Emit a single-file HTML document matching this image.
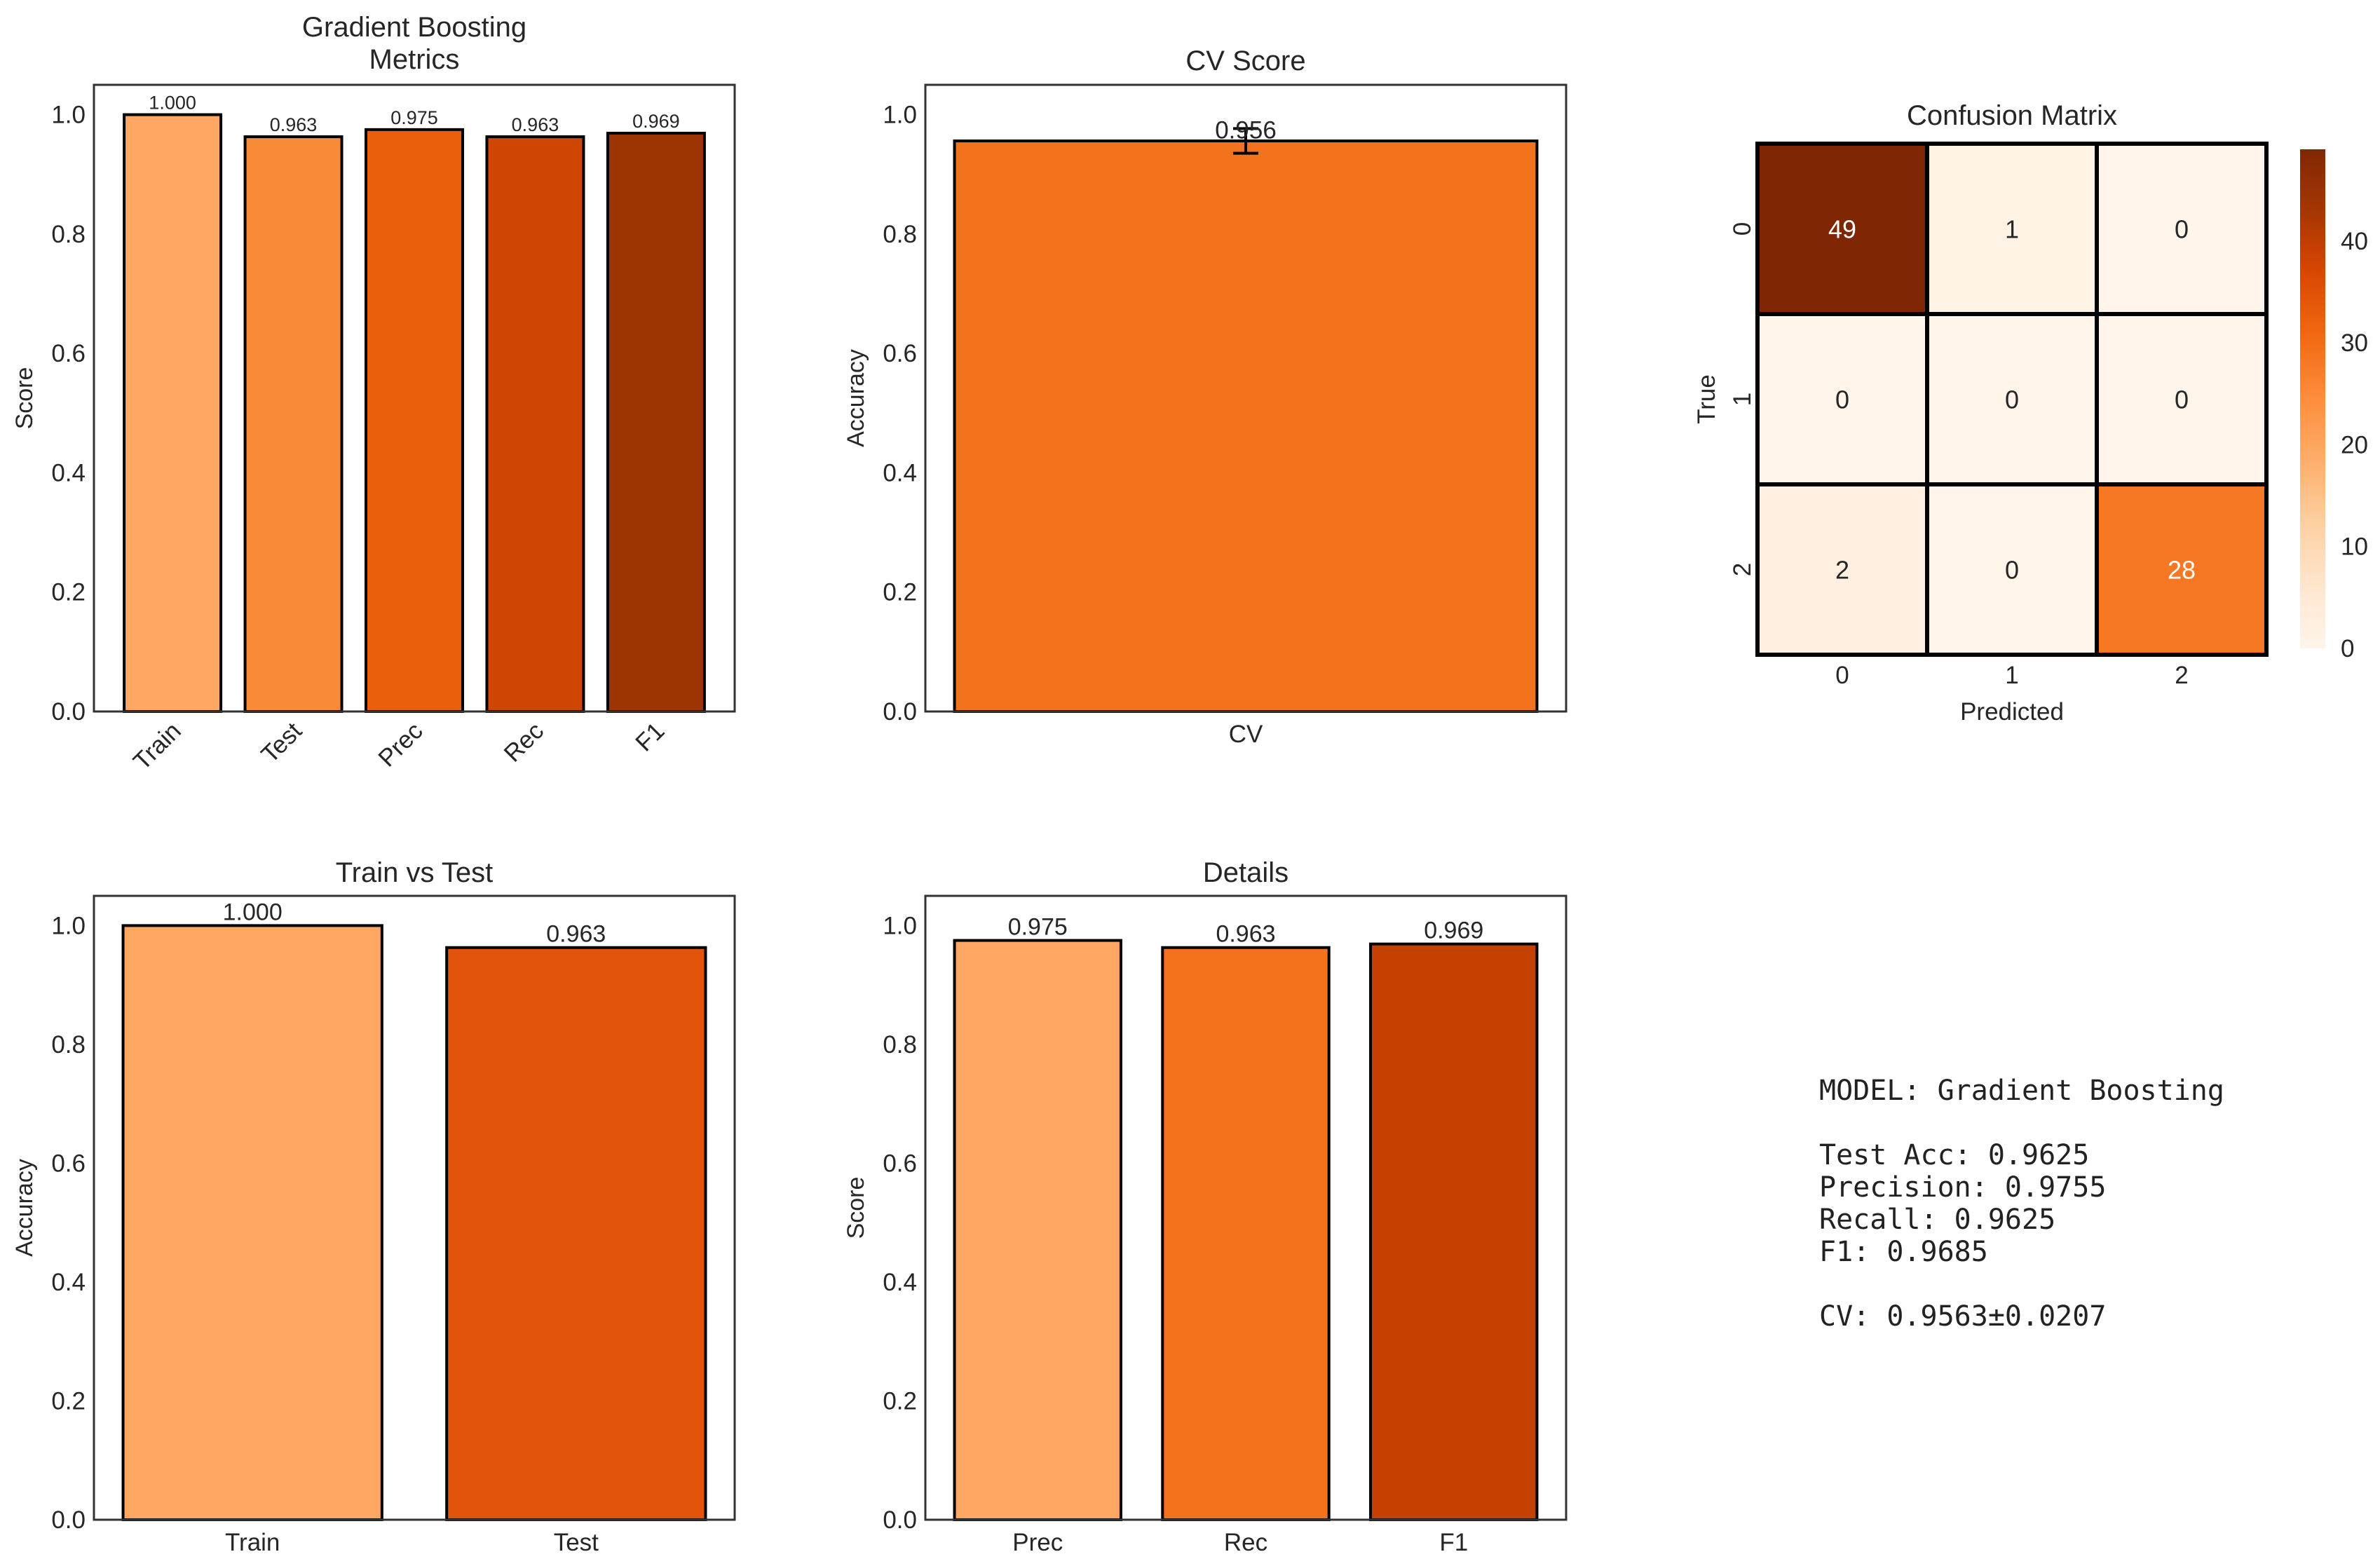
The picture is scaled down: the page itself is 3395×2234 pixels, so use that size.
<!DOCTYPE html>
<html><head><meta charset="utf-8">
<style>
html,body{margin:0;padding:0;background:#fff;}
svg{display:block;}
text{font-family:"Liberation Sans",sans-serif;fill:#262626;}
.mono{font-family:"DejaVu Sans Mono","Liberation Mono",monospace;fill:#222;}
</style></head>
<body>
<svg id="fig" width="3395" height="2234" viewBox="0 0 3395 2234" xmlns="http://www.w3.org/2000/svg">
<g id="root"></g>
<g>
<text class="mono" x="2595" y="1569" font-size="40">MODEL: Gradient Boosting</text>
<text class="mono" x="2595" y="1661" font-size="40">Test Acc: 0.9625</text>
<text class="mono" x="2595" y="1707" font-size="40">Precision: 0.9755</text>
<text class="mono" x="2595" y="1753" font-size="40">Recall: 0.9625</text>
<text class="mono" x="2595" y="1799" font-size="40">F1: 0.9685</text>
<text class="mono" x="2595" y="1891" font-size="40">CV: 0.9563±0.0207</text>
</g>
</svg>
<script>
const metricCats = ["Train","Test","Prec","Rec","F1"];
const metricVals = [1.000,0.963,0.975,0.963,0.969];
const metricLabels = ["1.000","0.963","0.975","0.963","0.969"];
const cvCats = ["CV"];
const cvVals = [0.956];
const cvErr = [0.0207];
const cvLabels = ["0.956"];
const ttCats = ["Train","Test"];
const ttVals = [1.000,0.963];
const ttLabels = ["1.000","0.963"];
const detCats = ["Prec","Rec","F1"];
const detVals = [0.975,0.963,0.969];
const detLabels = ["0.975","0.963","0.969"];
const yTicks = [0,0.2,0.4,0.6,0.8,1.0];
const yTickLabels = ["0.0","0.2","0.4","0.6","0.8","1.0"];
const cmRows = ["0","1","2"];
const cmCols = ["0","1","2"];
const cmVals = [[49,1,0],[0,0,0],[2,0,28]];
const cbTicks = [0,10,20,30,40];

const NS="http://www.w3.org/2000/svg";
const root=document.getElementById('root');
function mk(tag,attrs,parent,txt){const e=document.createElementNS(NS,tag);for(const k in attrs)e.setAttribute(k,attrs[k]);if(txt!==undefined)e.textContent=txt;(parent||root).appendChild(e);return e;}

const oranges=[[255,245,235],[254,230,206],[253,208,162],[253,174,107],[253,141,60],[241,105,19],[217,72,1],[166,54,3],[127,39,4]];
function orange(t){t=Math.max(0,Math.min(1,t));const p=t*8;const i=Math.min(7,Math.floor(p));const f=p-i;const a=oranges[i],b=oranges[i+1];return `rgb(${a.map((v,k)=>Math.round(v+(b[k]-v)*f)).join(',')})`;}

function barPanel(o){
  const g=mk('g',{});
  
  
  const {L,R,T,B,xmin,xmax,ymax}=o;
  const xs=v=>L+(v-xmin)/(xmax-xmin)*(R-L);
  const ys=v=>B-v/ymax*(B-T);
  const t=mk('text',{x:(L+R)/2,y:o.titleY,'text-anchor':'middle','font-size':40},g,o.title);
  
  
  if(o.title2){const t2=mk('text',{x:(L+R)/2,y:o.titleY+46,'text-anchor':'middle','font-size':40},g,o.title2);
    
    }
  yTicks.forEach((v,i)=>{const tl=mk('text',{x:L-12,y:ys(v)+12,'text-anchor':'end','font-size':35},g,yTickLabels[i]);
    
    });
  const yl=mk('text',{x:0,y:0,'text-anchor':'middle','font-size':34,transform:`translate(${L-88},${(T+B)/2}) rotate(-90)`},g,o.ylabel);
  
  
  const w=o.bw;
  o.cats.forEach((c,i)=>{
    const x0=xs(i-w/2),x1=xs(i+w/2),y=ys(o.vals[i]);
    const r=mk('rect',{x:x0,y:y,width:x1-x0,height:B-y,fill:o.colors[i],stroke:'#000','stroke-width':4},g);
    
    
    let ly=y-8;
    if(o.err){const e=o.err[i];const cx=xs(i);
      const el=mk('path',{d:`M${cx},${ys(o.vals[i]-e)}V${ys(o.vals[i]+e)}M${cx-18},${ys(o.vals[i]-e)}h36M${cx-18},${ys(o.vals[i]+e)}h36`,stroke:'#000','stroke-width':4,fill:'none'},g);
      
      
      ly=ys(o.vals[i]+e)+14;}
    const vl=mk('text',{x:xs(i),y:ly,'text-anchor':'middle','font-size':o.vfs},g,o.labels[i]);
    
    
    let xl;
    if(o.rot){xl=mk('text',{x:0,y:0,'text-anchor':'end','font-size':35,transform:`translate(${xs(i)+14},${B+30}) rotate(-45)`},g,c);}
    else{xl=mk('text',{x:xs(i),y:B+44,'text-anchor':'middle','font-size':35},g,c);}
    
    
  });
  const fr=mk('rect',{x:L,y:T,width:R-L,height:B-T,fill:'none',stroke:'#333','stroke-width':3},g);
  
  
}

barPanel({name:'metrics-panel',L:134,R:1048,T:121,B:1015,xmin:-0.65,xmax:4.65,ymax:1.05,bw:0.8,cats:metricCats,vals:metricVals,labels:metricLabels,
  colors:['#fda762','#f98a36','#ea5f0e','#cf4602','#9e3303'],title:'Gradient Boosting',title2:'Metrics',titleY:52,ylabel:'Score',vfs:27,rot:true});
barPanel({name:'cv-panel',L:1320,R:2234,T:121,B:1015,xmin:-0.44,xmax:0.44,ymax:1.05,bw:0.8,cats:cvCats,vals:cvVals,labels:cvLabels,err:cvErr,
  colors:['#f3721d'],title:'CV Score',titleY:100,ylabel:'Accuracy',vfs:35});
barPanel({name:'train-vs-test-panel',L:134,R:1048,T:1278,B:2168,xmin:-0.49,xmax:1.49,ymax:1.05,bw:0.8,cats:ttCats,vals:ttVals,labels:ttLabels,
  colors:['#fda762','#e2540a'],title:'Train vs Test',titleY:1258,ylabel:'Accuracy',vfs:34});
barPanel({name:'details-panel',L:1320,R:2234,T:1278,B:2168,xmin:-0.54,xmax:2.54,ymax:1.05,bw:0.8,cats:detCats,vals:detVals,labels:detLabels,
  colors:['#fda762','#f3721d','#c44103'],title:'Details',titleY:1258,ylabel:'Score',vfs:34});

(function(){
  const g=mk('g',{});
  
  
  const L=2507,R=3233,T=205,B=934,vmax=49;
  const cw=(R-L)/cmCols.length,ch=(B-T)/cmRows.length;
  const t=mk('text',{x:(L+R)/2,y:178,'text-anchor':'middle','font-size':40},g,'Confusion Matrix');
  
  
  cmVals.forEach((row,r)=>row.forEach((v,c)=>{
    const cell=mk('rect',{x:L+c*cw,y:T+r*ch,width:cw,height:ch,fill:orange(v/vmax),stroke:'#000','stroke-width':6},g);
    
    
    const tx=mk('text',{x:L+(c+.5)*cw,y:T+(r+.5)*ch+13,'text-anchor':'middle','font-size':36,style:`fill:${v/vmax>0.5?'#fff':'#262626'}`},g,String(v));
    
    
  }));
  cmCols.forEach((c,i)=>{const tl=mk('text',{x:L+(i+.5)*cw,y:975,'text-anchor':'middle','font-size':35},g,c);
    
    });
  cmRows.forEach((c,i)=>{const tl=mk('text',{x:0,y:0,'text-anchor':'middle','font-size':35,transform:`translate(${2497},${T+(i+.5)*ch}) rotate(-90)`},g,c);
    
    });
  const xl=mk('text',{x:(L+R)/2,y:1027,'text-anchor':'middle','font-size':35},g,'Predicted');
  
  
  const yl=mk('text',{x:0,y:0,'text-anchor':'middle','font-size':35,transform:`translate(2446,${(T+B)/2}) rotate(-90)`},g,'True');
  
  
  const CL=3281,CR=3317,CT=213,CB=925;
  const defs=mk('defs',{},g);
  const lg=mk('linearGradient',{id:'cbg',x1:0,y1:1,x2:0,y2:0},defs);
  for(let i=0;i<=16;i++)mk('stop',{offset:i/16,'stop-color':orange(i/16)},lg);
  const cb=mk('rect',{x:CL,y:CT,width:CR-CL,height:CB-CT,fill:'url(#cbg)'},g);
  
  
  cbTicks.forEach(v=>{const y=CB-v/vmax*(CB-CT);
    const tl=mk('text',{x:CR+22,y:y+12,'font-size':35},g,String(v));
    
    });
})();
</script>
</body></html>
